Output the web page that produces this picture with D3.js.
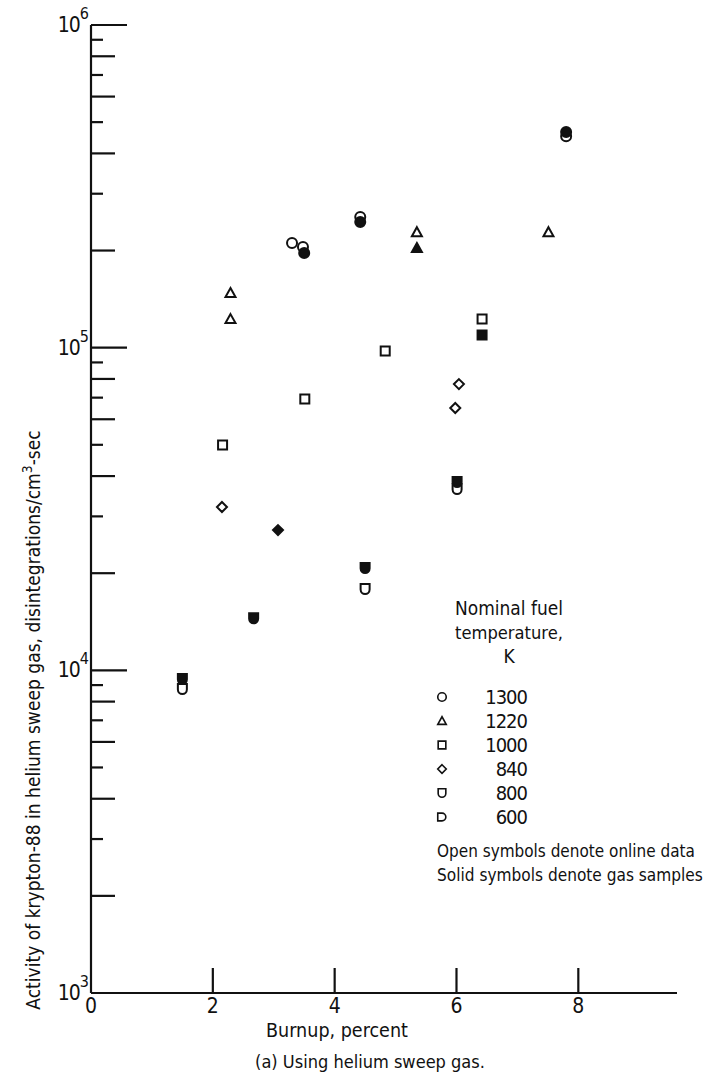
<!DOCTYPE html>
<html><head><meta charset="utf-8">
<script src="https://cdn.jsdelivr.net/npm/d3@7"></script>
<style>
html,body{margin:0;padding:0;background:#fff;}
svg text{font-family:'Liberation Sans Narrow','DejaVu Sans Condensed','Liberation Sans',sans-serif;fill:#111;}
</style></head>
<body><svg id="c" width="722" height="1079"></svg>
<script>
// ---- data ----
const xTicks = [2, 4, 6, 8];
const xTickLabels = ["2", "4", "6", "8"];
const yDecades = [1e3, 1e4, 1e5, 1e6];
const yDecadeExp = ["3", "4", "5", "6"];
const legendTemps = ["1300", "1220", "1000", "840", "800", "600"];
const legendShapes = ["circle", "triangle", "square", "diamond", "cup", "dee"];

// [burnup %, activity]
const t1300Open  = [[3.30, 211000], [3.48, 205000], [4.42, 254000], [7.80, 452000]];
const t1300Solid = [[3.50, 196500], [4.42, 245000], [7.80, 466000]];
const t1220Open  = [[2.29, 147600], [2.29, 122600], [5.35, 228000], [7.51, 228000]];
const t1220Solid = [[5.35, 203500]];
const t1000Open  = [[2.16, 49900], [3.51, 69300], [4.83, 97600], [6.42, 122600]];
const t1000Solid = [[6.42, 109400]];
const t840Open   = [[2.15, 32070], [6.04, 77100], [5.98, 65000]];
const t840Solid  = [[3.07, 27200]];
const t800Open   = [[1.50, 8750], [4.50, 17860], [6.01, 36460]];
const t800Solid  = [[1.50, 9400], [2.67, 14500], [4.50, 20750], [6.01, 38330]];

// ---- layout ----
const svg = d3.select("#c");
const x = d3.scaleLinear().domain([0, 9.62]).range([91, 677]);
const y = d3.scaleLog().domain([1e3, 1e6]).range([993, 25]);
const ink = "#111";

function fit(sel, width) {
  const fs = +sel.attr("font-size");
  const w = sel.node().getComputedTextLength();
  if (w > 0) sel.attr("font-size", (fs * width / w).toFixed(2));
  return sel;
}

// axes lines
svg.append("line").attr("x1", x(0)).attr("x2", x(0)).attr("y1", y(1e6)).attr("y2", y(1e3))
  .attr("stroke", ink).attr("stroke-width", 2.2);
svg.append("line").attr("x1", x(0)).attr("x2", x.range()[1]).attr("y1", y(1e3)).attr("y2", y(1e3))
  .attr("stroke", ink).attr("stroke-width", 2.2);

// y ticks
const yTickVals = [];
for (let e = 3; e < 6; e++) for (let m = 2; m <= 9; m++) yTickVals.push(m * Math.pow(10, e));
svg.selectAll(".ymin").data(yTickVals).enter().append("line")
  .attr("x1", x(0)).attr("y1", d => y(d)).attr("y2", d => y(d))
  .attr("x2", d => { const m = Math.round(d / Math.pow(10, Math.floor(Math.log10(d) + 1e-9))); return x(0) + (m % 2 === 0 ? 24 : 12); })
  .attr("stroke", ink).attr("stroke-width", 2.2);
svg.selectAll(".ymaj").data(yDecades.slice(1)).enter().append("line")
  .attr("x1", x(0)).attr("x2", x(0) + 36).attr("y1", d => y(d)).attr("y2", d => y(d))
  .attr("stroke", ink).attr("stroke-width", 2.2);

// y tick labels
yDecades.forEach((d, i) => {
  const t = svg.append("text").attr("x", x(0) - 2).attr("y", y(d) + 7)
    .attr("text-anchor", "end").attr("font-size", 21);
  t.append("tspan").attr("letter-spacing", -1).text("10");
  t.append("tspan").attr("dy", -13).attr("font-size", 16).text(yDecadeExp[i]);
});

// x ticks
svg.selectAll(".xt").data(xTicks).enter().append("line")
  .attr("x1", d => x(d)).attr("x2", d => x(d)).attr("y1", y(1e3)).attr("y2", y(1e3) - 25)
  .attr("stroke", ink).attr("stroke-width", 2.2);
svg.selectAll(".xl").data(xTicks).enter().append("text")
  .attr("x", d => x(d)).attr("y", y(1e3) + 20).attr("text-anchor", "middle").attr("font-size", 21)
  .text((d, i) => xTickLabels[i]);
svg.append("text").attr("x", x(0)).attr("y", y(1e3) + 20).attr("text-anchor", "middle")
  .attr("font-size", 21).text("0");

// axis titles
fit(svg.append("text").attr("x", 337).attr("y", 1037).attr("text-anchor", "middle").attr("font-size", 19)
  .text("Burnup, percent"), 142);
fit(svg.append("text").attr("x", 370).attr("y", 1068).attr("text-anchor", "middle").attr("font-size", 19)
  .text("(a) Using helium sweep gas."), 230);

const yl = svg.append("text").attr("transform", "translate(40,720) rotate(-90)")
  .attr("text-anchor", "middle").attr("font-size", 18);
yl.append("tspan").text("Activity of krypton-88 in helium sweep gas,  disintegrations/cm");
yl.append("tspan").attr("dy", -8).attr("font-size", "0.72em").text("3");
yl.append("tspan").attr("dy", 8).text("-sec");
fit(yl, 580);

// symbols
const shapes = {
  circle: "M0,-5A5,5 0 1 1 0,5A5,5 0 1 1 0,-5Z",
  triangle: "M0,-5L5,4L-5,4Z",
  square: "M-4.5,-4.5L4.5,-4.5L4.5,4.5L-4.5,4.5Z",
  diamond: "M0,-5L5,0L0,5L-5,0Z",
  cup: "M-4.5,-5L4.5,-5L4.5,0.5A4.5,4.5 0 0 1 -4.5,0.5Z",
  dee: "M-5,-4.5L0,-4.5A4.5,4.5 0 0 1 0,4.5L-5,4.5Z"
};
function plot(data, shape, solid) {
  svg.append("g").selectAll("path").data(data).enter().append("path")
    .attr("transform", d => `translate(${x(d[0])},${y(d[1])})`)
    .attr("d", shapes[shape])
    .attr("fill", solid ? ink : "#fff").attr("stroke", ink).attr("stroke-width", 2)
    .attr("stroke-linejoin", "miter");
}
plot(t1300Open, "circle", false);
plot(t1220Open, "triangle", false);
plot(t1000Open, "square", false);
plot(t840Open, "diamond", false);
plot(t800Open, "cup", false);
plot(t1300Solid, "circle", true);
plot(t1220Solid, "triangle", true);
plot(t1000Solid, "square", true);
plot(t840Solid, "diamond", true);
plot(t800Solid, "cup", true);

// legend
const lg = svg.append("g");
[["Nominal fuel", 615], ["temperature,", 639], ["K", 663]].forEach(([s, yy]) => {
  const t = lg.append("text").attr("x", 509).attr("y", yy).attr("text-anchor", "middle").attr("font-size", 19).text(s);
  if (s !== "K") fit(t, 108);
});
const rowY = d3.scaleLinear().domain([0, 5]).range([697, 817]);
legendTemps.forEach((t, i) => {
  lg.append("path").attr("d", shapes[legendShapes[i]])
    .attr("fill", "#fff").attr("stroke", ink).attr("stroke-width", 1.9)
    .attr("transform", `translate(442,${rowY(i)}) scale(0.85)`);
  lg.append("text").attr("x", 527).attr("y", rowY(i) + 7).attr("text-anchor", "end")
    .attr("font-size", 20).attr("letter-spacing", -1).text(t);
});
fit(lg.append("text").attr("x", 437).attr("y", 857).attr("font-size", 19)
  .text("Open symbols denote online data"), 258);
fit(lg.append("text").attr("x", 437).attr("y", 881).attr("font-size", 19)
  .text("Solid symbols denote gas samples"), 266);
</script></body></html>
